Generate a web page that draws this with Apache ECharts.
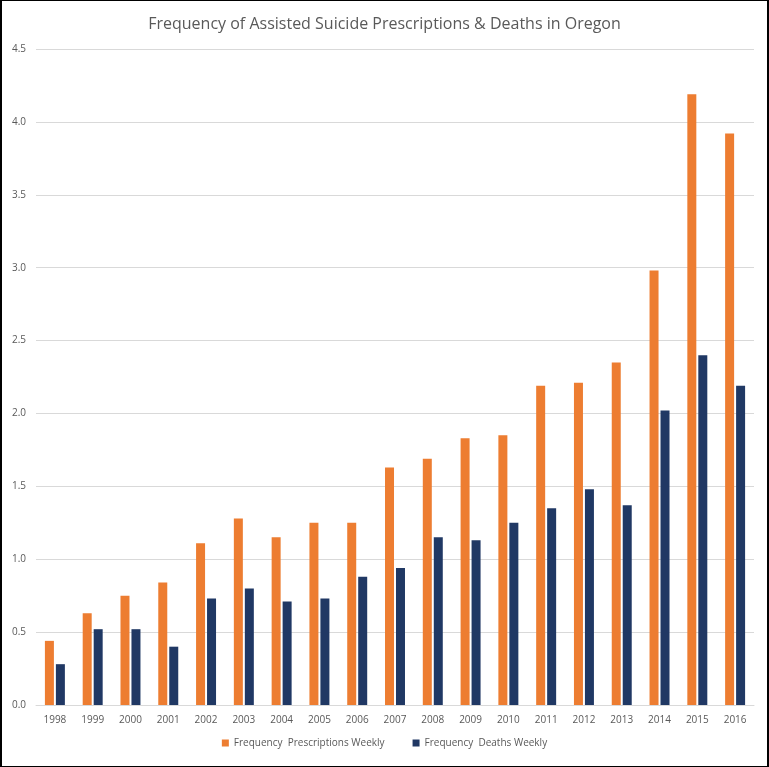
<!DOCTYPE html>
<html><head><meta charset="utf-8">
<script src="https://cdn.jsdelivr.net/npm/echarts@6/dist/echarts.min.js"></script>
<style>
html,body{margin:0;padding:0;background:#fff;}
#c{width:769px;height:767px;box-sizing:border-box;border-style:solid;border-color:#000;border-width:1px 2px 1px 2px;}
</style></head>
<body><div id="c"></div>
<script>
var years = ['1998','1999','2000','2001','2002','2003','2004','2005','2006','2007','2008','2009','2010','2011','2012','2013','2014','2015','2016'];
var prescriptionsWeekly = [0.44,0.63,0.75,0.84,1.11,1.28,1.15,1.25,1.25,1.63,1.69,1.83,1.85,2.19,2.21,2.35,2.98,4.19,3.92];
var deathsWeekly = [0.28,0.52,0.52,0.40,0.73,0.80,0.71,0.73,0.88,0.94,1.15,1.13,1.25,1.35,1.48,1.37,2.02,2.40,2.19];
var yTicks = {min:0,max:4.5,interval:0.5};

var chart = echarts.init(document.getElementById('c'), null, {renderer:'canvas'});
var txt = '#595959';
chart.setOption({
  animation:false,
  title:{text:'Frequency of Assisted Suicide Prescriptions & Deaths in Oregon',left:'center',top:10,
    textStyle:{fontFamily:'Open Sans',fontSize:16,fontWeight:'normal',color:txt}},
  legend:{bottom:13,left:'center',itemWidth:7,itemHeight:7,itemGap:28,icon:'rect',
    textStyle:{fontFamily:'Open Sans',fontSize:10,color:txt}},
  grid:{left:34,right:13,top:48,bottom:61,containLabel:false},
  xAxis:{type:'category',data:years,
    axisLine:{lineStyle:{color:'#d9d9d9'}},axisTick:{show:false},
    axisLabel:{color:txt,fontFamily:'Open Sans',fontSize:10,margin:10}},
  yAxis:{type:'value',min:yTicks.min,max:yTicks.max,interval:yTicks.interval,
    axisLabel:{color:txt,fontFamily:'Open Sans',fontSize:10,margin:10,formatter:function(v){return v.toFixed(1);}},
    splitLine:{lineStyle:{color:'#d9d9d9'}},axisLine:{show:false},axisTick:{show:false}},
  series:[
    {name:'Frequency  Prescriptions Weekly',type:'bar',data:prescriptionsWeekly,barWidth:9,barGap:'22%',itemStyle:{color:'#ed7d31'}},
    {name:'Frequency  Deaths Weekly',type:'bar',data:deathsWeekly,barWidth:9,itemStyle:{color:'#203864'}}
  ]
});
</script></body></html>
